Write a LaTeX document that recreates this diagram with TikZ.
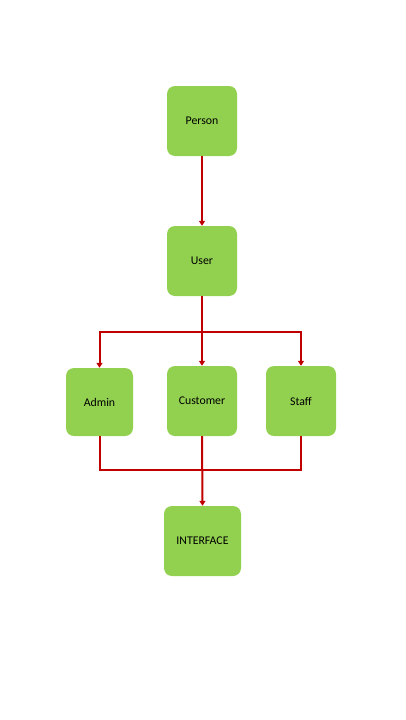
\documentclass[tikz,border=0pt]{standalone}
\usepackage{fontspec}
\setmainfont{Carlito}
\usetikzlibrary{arrows.meta}
\definecolor{boxgreen}{HTML}{92D050}
\definecolor{linered}{HTML}{C00000}
\begin{document}
\begin{tikzpicture}[x=1pt,y=-1pt,
  box/.style={fill=boxgreen,rounded corners=8pt,inner sep=0pt,font=\fontsize{11.8}{13}\selectfont,text=black},
  conn/.style={draw=linered,line width=2pt},
  arr/.style={conn,-{Triangle[length=5pt,width=6pt]}}]
\useasboundingbox (0,0) rectangle (405,720);
\node[box,minimum width=70pt,minimum height=70pt] (person) at (202,121) {Person};
\node[box,minimum width=70pt,minimum height=70pt] (user) at (202,261) {User};
\node[box,minimum width=67pt,minimum height=68pt] (admin) at (99.5,402) {Admin};
\node[box,minimum width=70pt,minimum height=70pt] (cust) at (202,401) {Customer};
\node[box,minimum width=70pt,minimum height=70pt] (staff) at (301,401) {Staff};
\node[box,minimum width=77pt,minimum height=70pt] (iface) at (202.5,541) {INTERFACE};
\coordinate (split) at (202,332);
\coordinate (join) at (202,470);
\draw[arr] (person.south) -- (user.north);
\draw[conn] (user.south) -- (split);
\draw[arr] (split) -| (admin.north);
\draw[arr] (split) -- (cust.north);
\draw[arr] (split) -| (staff.north);
\draw[conn] (admin.south) |- (join);
\draw[conn] (staff.south) |- (join);
\draw[arr] (cust.south) -- (iface.north);
\end{tikzpicture}
\end{document}
